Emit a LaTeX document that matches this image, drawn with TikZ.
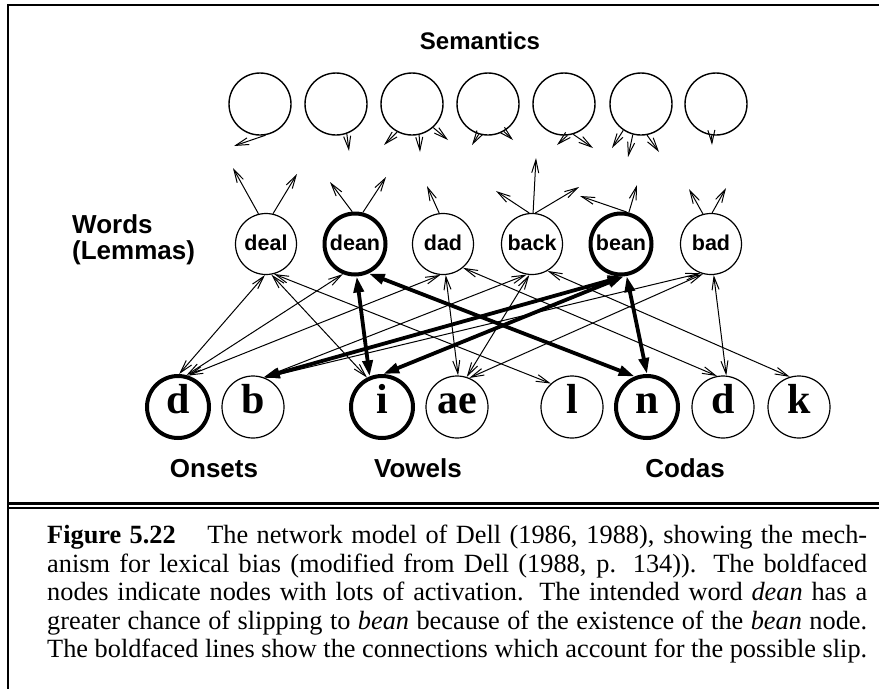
\documentclass[tikz,border=0pt]{standalone}
\usepackage{fontspec}
\setmainfont{Liberation Serif}
\newfontfamily\hv{Liberation Sans}
\usetikzlibrary{arrows.meta}
\newlength\capw
\def\capsz{26}
\begin{document}
\begin{tikzpicture}[x=1pt,y=-1pt,
  sem/.style={circle,draw,line width=1.4pt,minimum size=62pt,inner sep=0pt},
  word/.style={circle,draw,line width=1.2pt,minimum size=61pt,inner sep=0pt,text height=12pt,text depth=0pt,font=\hv\bfseries\fontsize{21.5}{24}\selectfont},
  hotword/.style={word,line width=4pt},
  phon/.style={circle,draw,line width=1.2pt,minimum size=62pt,inner sep=0pt,text height=12pt,text depth=0pt,font=\bfseries\fontsize{42}{46}\selectfont},
  hotphon/.style={phon,line width=4pt},
  link/.style={line width=1pt,{Straight Barb[length=13pt,width=7pt]}-{Straight Barb[length=13pt,width=7pt]}},
  hotlink/.style={line width=3.8pt,{Triangle[length=16pt,width=10pt]}-{Triangle[length=16pt,width=10pt]}},
  uparrow/.style={line width=1pt,-{Straight Barb[length=13pt,width=7pt]}},
  lbl/.style={font=\hv\bfseries\fontsize{26}{26}\selectfont,inner sep=0pt},
  capline/.style={anchor=base west,inner sep=0pt}
]
\useasboundingbox (0,0) rectangle (879,689);
% frame
\draw[line width=2.5pt] (7,5) -- (879,5);
\draw[line width=2.2pt] (8.3,4) -- (8.3,689);
\draw[line width=3.3pt] (8,503.7) -- (879,503.7);
\draw[line width=2pt] (8,507.7) -- (879,507.7);

% labels
\node[lbl,font=\hv\bfseries\fontsize{24}{26}\selectfont] (tsem) at (480,41) {Semantics};
\node[lbl,align=left,anchor=west] (twords) at (72,239.5) {Words\\(Lemmas)};
\node[lbl] (tons) at (214,468.5) {Onsets};
\node[lbl] (tvow) at (418,468.5) {Vowels};
\node[lbl] (tcod) at (685,468.5) {Codas};

% semantic nodes
\node[sem] (s1) at (260,104) {};
\node[sem] (s2) at (336,104) {};
\node[sem] (s3) at (412,104) {};
\node[sem] (s4) at (488,104) {};
\node[sem] (s5) at (564,104) {};
\node[sem] (s6) at (641,104) {};
\node[sem] (s7) at (716,104) {};

% word nodes
\node[word] (deal) at (266,244) {deal};
\node[hotword] (dean) at (355,244) {dean};
\node[word] (dad) at (443,244) {dad};
\node[word] (back) at (532,244) {back};
\node[hotword] (bean) at (621,244) {bean};
\node[word] (bad) at (711,244) {bad};

% phoneme nodes
\node[hotphon] (pd) at (178,407) {d};
\node[phon] (pb) at (253,407) {b};
\node[hotphon] (pi) at (382,407) {i};
\node[phon] (pae) at (457,407) {ae};
\node[phon] (pl) at (572,407) {l};
\node[hotphon] (pn) at (647,407) {n};
\node[phon] (cd) at (723,407) {d};
\node[phon] (ck) at (799,407) {k};

% free ends below semantic nodes
\coordinate (e1) at (234,146);
\coordinate (e2) at (349,151);
\coordinate (e3a) at (384,145);
\coordinate (e3b) at (420,152);
\coordinate (e3c) at (448,140);
\coordinate (e4a) at (472,145);
\coordinate (e4b) at (513,140);
\coordinate (e5a) at (557,145);
\coordinate (e5b) at (593,148);
\coordinate (e6a) at (612,148);
\coordinate (e6b) at (628,157);
\coordinate (e6c) at (659,152);
\coordinate (e7) at (712,145);
\draw[uparrow] (s1.-80) -- (e1);
\draw[uparrow] (s2.-70) -- (e2);
\draw[uparrow] (s3.-118) -- (e3a);
\draw[uparrow] (s3.-77) -- (e3b);
\draw[uparrow] (s3.-48) -- (e3c);
\draw[uparrow] (s4.-107) -- (e4a);
\draw[uparrow] (s4.-60) -- (e4b);
\draw[uparrow] (s5.-84) -- (e5a);
\draw[uparrow] (s5.-73) -- (e5b);
\draw[uparrow] (s6.-124) -- (e6a);
\draw[uparrow] (s6.-105) -- (e6b);
\draw[uparrow] (s6.-79) -- (e6c);
\draw[uparrow] (s7.-98) -- (e7);

% free ends above word nodes
\coordinate (u1a) at (233,168);
\coordinate (u1b) at (297,174);
\coordinate (u2a) at (330,182);
\coordinate (u2b) at (386,177);
\coordinate (u3a) at (427,186);
\coordinate (u4a) at (496,191);
\coordinate (u4b) at (536,158);
\coordinate (u4c) at (579,187);
\coordinate (u5a) at (580,196);
\coordinate (u5b) at (637,185);
\coordinate (u6a) at (689,189);
\coordinate (u6b) at (726,188);
\draw[uparrow] (deal.104) -- (u1a);
\draw[uparrow] (deal.77) -- (u1b);
\draw[uparrow] (dean.95) -- (u2a);
\draw[uparrow] (dean.76) -- (u2b);
\draw[uparrow] (dad.97) -- (u3a);
\draw[uparrow] (back.95) -- (u4a);
\draw[uparrow] (back.88) -- (u4b);
\draw[uparrow] (back.84) -- (u4c);
\draw[uparrow] (bean.80) -- (u5a);
\draw[uparrow] (bean.76) -- (u5b);
\draw[uparrow] (bad.105) -- (u6a);
\draw[uparrow] (bad.88) -- (u6b);

% thin word-phoneme links
\draw[link] (deal.-92) -- (pd.88);
\draw[link] (deal.-80) -- (pi.117);
\draw[link] (deal.-75) -- (pl.132);
\draw[link] (dean.-112) -- (pd.75);
\draw[link] (dad.-95) -- (pd.72);
\draw[link] (dad.-85) -- (pae.88);
\draw[link] (dad.-50) -- (cd.101);
\draw[link] (back.-100) -- (pb.70);
\draw[link] (back.-95) -- (pae.72);
\draw[link] (back.-60) -- (ck.107);
\draw[link] (bad.-110) -- (pb.68);
\draw[link] (bad.-105) -- (pae.67);
\draw[link] (bad.-85) -- (cd.84);

% bold links
\draw[hotlink] (dean.-87) -- (pi.112);
\draw[hotlink] (dean.-65) -- (pn.112);
\draw[hotlink] (bean.-85) -- (pb.70);
\draw[hotlink] (bean.-85) -- (pi.88);
\draw[hotlink] (bean.-80) -- (pn.90);

% caption (font size fitted so that the last line is 820pt wide)
\node[capline] (c1) at (47,543.5) {%
  \settowidth{\capw}{\fontsize{10}{12}\selectfont The boldfaced lines show the connections which account for the possible slip.}%
  \pgfmathsetmacro\tmpsz{8200/\capw}%
  \xdef\capsz{\tmpsz}%
  \fontsize{\capsz}{30}\selectfont
  \hbox to 820pt{\textbf{Figure 5.22}\hspace{1.2em}The network model of Dell (1986, 1988), showing the mech-}};
\node[capline] (c2) at (47,572) {\fontsize{\capsz}{30}\selectfont\hbox to 820pt{anism for lexical bias (modified from Dell (1988, p. 134)). The boldfaced}};
\node[capline] (c3) at (47,600.5) {\fontsize{\capsz}{30}\selectfont\hbox to 820pt{nodes indicate nodes with lots of activation. The intended word \textit{dean} has a}};
\node[capline] (c4) at (47,629) {\fontsize{\capsz}{30}\selectfont\hbox to 820pt{greater chance of slipping to \textit{bean} because of the existence of the \textit{bean} node.}};
\node[capline] (c5) at (47,657.5) {\fontsize{\capsz}{30}\selectfont\hbox to 820pt{The boldfaced lines show the connections which account for the possible slip.}};
\end{tikzpicture}
\end{document}
